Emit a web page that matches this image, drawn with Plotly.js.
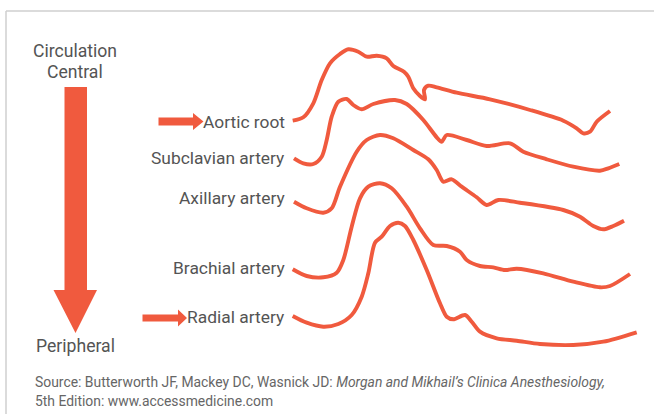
<!DOCTYPE html>
<html><head><meta charset="utf-8">
<script src="https://cdn.plot.ly/plotly-3.0.1.min.js"></script>
<style>html,body{margin:0;padding:0;background:#fff;}#chart{width:654px;height:414px;}</style>
</head><body><div id="chart"></div>
<script>
// Waveform traces (time, vertical position)
const aorticT = [292.7,303.3,313.3,321.7,330,340,348.3,358.3,366.7,376.7,386.7,393.3,404,408.3,413.3,420,425,424,428.3,436.7,456.7,490,530,563.3,576.7,583.3,590,596.7,610];
const aorticP = [120.7,117.3,103.3,80,63.3,54,49.3,51.7,56.7,55.7,58.3,66,71.7,76.7,88.3,96,99.3,90,85.7,87.3,92.7,99.3,110,120.7,128.3,133.3,131.7,121.7,111];

const subclavianT = [294,303.3,313.3,321.7,326.7,331.7,338.3,346.7,353.3,361.7,373.3,395,406.7,423.3,436.7,441.7,446.7,466.7,486.7,510,523.3,546.7,573.3,600,608.3,619.3];
const subclavianP = [158.3,163.3,164,156.7,140,116.7,101.7,99,105,109.3,104,100,104,120,137.3,141.7,135,140,146,143.3,151.7,159.3,166.7,170.7,168.3,164];

const axillaryT = [294,306.7,323.3,331.7,340,356.7,366.7,380,393.3,413.3,428.3,436.7,443.3,451.7,461.7,476.7,486.7,498.3,520,563.3,580,593.3,603.3,613.3,624];
const axillaryP = [201.7,208.3,212.7,208.3,186.7,151.7,140,135,138.3,150,159.3,170,181.7,179.3,186.7,197.3,205,200,202.7,210,216.7,226,229.3,226,220.7];

const brachialT = [292.7,306.7,323.3,336.7,343.3,351.7,360,368.3,380,391.7,406.7,420,433.3,446.7,460,466.7,480,493.3,505,516.7,543.3,573.3,600,610,630];
const brachialP = [269.3,276,277.3,272.7,260,226.7,198.3,186.7,183.3,188.3,206.7,228.3,245,246,251.7,260,266,267.3,270,268.7,273.3,281.7,287.3,286,274];

const radialT = [292.7,306.7,323.3,338.3,351.7,361.7,368.3,375,381.7,390,398.3,405,413.3,426.7,440,446.7,453.3,465,471.7,480,496.7,516.7,540,573.3,603.3,636.7];
const radialP = [316,322.7,326.7,324,315,296.7,273.3,242.7,236.7,226,222.7,226,240,270,303.3,316.7,319.3,315,321.7,331.7,338.3,340.7,344,345,341.7,332.3];

// Labels
const siteLabels = ["Aortic root","Subclavian artery","Axillary artery","Brachial artery","Radial artery"];
const labelY = [121.7,158.3,198.3,268.3,316.7];

const RED = "#F05A3E";
const TXT = "#545454";
const FONT = "Roboto, sans-serif";

const series = [[aorticT,aorticP],[subclavianT,subclavianP],[axillaryT,axillaryP],[brachialT,brachialP],[radialT,radialP]];
const traces = series.map(([t,p],i)=>({
  x:t, y:p, type:"scatter", mode:"lines", name:siteLabels[i],
  line:{color:RED, width:3.9, shape:"spline", smoothing:0.8},
  hoverinfo:"skip", showlegend:false
}));

const annotations = siteLabels.map((s,i)=>({
  x:287, y:labelY[i], xref:"x", yref:"y", text:s, showarrow:false,
  xanchor:"right", yanchor:"middle", font:{family:FONT, size:17.4, color:TXT}
}));
annotations.push(
  {x:75, y:50.5, xref:"x", yref:"y", text:"Circulation", showarrow:false, xanchor:"center", yanchor:"middle", font:{family:FONT, size:17.6, color:TXT}},
  {x:75, y:71.5, xref:"x", yref:"y", text:"Central", showarrow:false, xanchor:"center", yanchor:"middle", font:{family:FONT, size:17.6, color:TXT}},
  {x:75, y:346, xref:"x", yref:"y", text:"Peripheral", showarrow:false, xanchor:"center", yanchor:"middle", font:{family:FONT, size:17.6, color:TXT}},
  {x:33, y:381.5, xref:"x", yref:"y", text:"Source: Butterworth JF, Mackey DC, Wasnick JD: <i>Morgan and Mikhail’s Clinica Anesthesiology,</i>", showarrow:false, xanchor:"left", yanchor:"middle", font:{family:FONT, size:13.9, color:"#666"}},
  {x:33, y:400.5, xref:"x", yref:"y", text:"5th Edition: www.accessmedicine.com", showarrow:false, xanchor:"left", yanchor:"middle", font:{family:FONT, size:13.9, color:"#666"}}
);

const shapes = [
  // frame
  {type:"line", xref:"paper", yref:"paper", x0:6/654, x1:6/654, y0:0, y1:1-11/414, line:{color:"#cfcfcf", width:1.5}},
  {type:"line", xref:"paper", yref:"paper", x0:6/654, x1:1, y0:1-11/414, y1:1-11/414, line:{color:"#cfcfcf", width:1.5}},
  // big down arrow
  {type:"path", xref:"x", yref:"y", path:"M64.5,87 L87,87 L87,290 L97,290 L75.5,333 L53.5,290 L64.5,290 Z", fillcolor:RED, line:{width:0}},
  // aortic root arrow
  {type:"path", xref:"x", yref:"y", path:"M158.5,117.5 L193,117.5 L193,113 L203.5,121.5 L193,130 L193,125.5 L158.5,125.5 Z", fillcolor:RED, line:{width:0}},
  // radial arrow
  {type:"path", xref:"x", yref:"y", path:"M142.5,314.5 L178,314.5 L178,309.5 L187,318 L178,326.5 L178,321.5 L142.5,321.5 Z", fillcolor:RED, line:{width:0}}
];

const layout = {
  width:654, height:414, margin:{l:0,r:0,t:0,b:0},
  paper_bgcolor:"#fff", plot_bgcolor:"#fff",
  xaxis:{range:[0,654], visible:false, fixedrange:true},
  yaxis:{range:[414,0], visible:false, fixedrange:true},
  annotations, shapes, showlegend:false
};
Plotly.newPlot("chart", traces, layout, {displayModeBar:false, staticPlot:true});
</script></body></html>
